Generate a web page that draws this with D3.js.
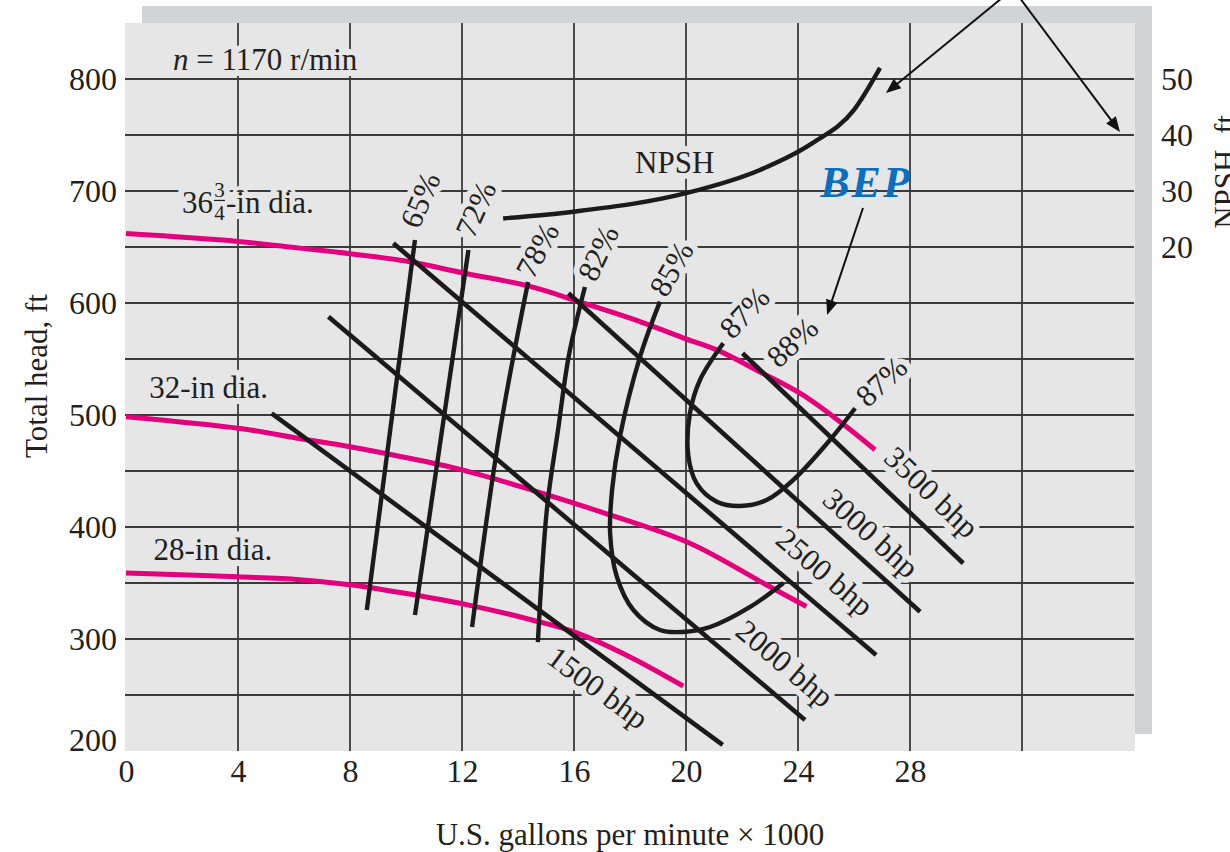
<!DOCTYPE html>
<html>
<head>
<meta charset="utf-8">
<script src="https://cdn.jsdelivr.net/npm/d3@7"></script>
<style>
  body { margin: 0; background: #fff; }
  svg text { font-family: "Liberation Serif", "Times New Roman", serif; fill: #231f20; }
  svg text.halo { fill: #e6e6e6; stroke: #e6e6e6; stroke-width: 12px; stroke-linejoin: round; }
</style>
</head>
<body>
<script>
// ---- axis ticks and grid ----
const flowTicks = [0, 4, 8, 12, 16, 20, 24, 28];          // gpm x 1000
const headTicks = [200, 300, 400, 500, 600, 700, 800];    // ft
const npshTicks = [20, 30, 40, 50];                       // ft
const flowGrid  = [4, 8, 12, 16, 20, 24, 28, 32];
const headGrid  = [250, 300, 350, 400, 450, 500, 550, 600, 650, 700, 750, 800];

// ---- head-capacity curves per impeller diameter: [gpm x 1000, head ft] ----
const head36 = [[0,662],[4,655],[6.2,649],[8,644],[10.1,637],[12,627],[14.4,615],[16.2,601],
                [18.4,583],[20,568],[21.2,557],[22.6,539],[24.1,519],[25.5,494],[26.75,469]];
const head32 = [[0,498.5],[4.07,488],[6.2,479],[8,471.7],[9.8,463],[12,451],[14.5,433],
                [16.9,414],[20.1,386],[22.9,348],[24.3,329]];
const head28 = [[0,359],[4,355.5],[6.2,353],[8,348.5],[9.8,341.5],[12.2,330.5],[14.5,317],
                [16.1,305.5],[18,284],[19.9,258]];

// ---- required NPSH: [gpm x 1000, NPSH ft] ----
const npshCurve = [[13.47,25.1],[15.97,26.3],[20,29.6],[22.64,33.75],[24.5,38.5],[26,44.5],[26.93,52]];

// ---- iso-efficiency contours: [gpm x 1000, head ft] ----
const effNames = ["65%", "72%", "78%", "82%", "85%", "87%"];
const eff65 = [[10.32,656.3],[8.6,325.9]];
const eff72 = [[12.23,647.3],[10.32,321.4]];
const eff78 = [[14.36,618.75],[13.36,486.6],[12.36,310.7]];
const eff82 = [[16.39,614.3],[15.82,553.6],[15.43,486.6],[15.04,417.9],[14.71,297.3]];
const eff85 = [[19.07,601.2],[18.36,552.1],[17.64,480.6],[17.36,433],[17.29,394.6],[17.53,355.6],
               [18.12,325.9],[19.07,308],[19.89,306.3],[20.86,310.7],[22.29,328.6],[23.48,350]];
const eff87 = [[21.33,564],[20.5,531.25],[20.14,501.5],[20.08,464.3],[20.38,439],[21.1,422.6],
               [21.93,418.75],[22.88,424.1],[23.83,442],[25.14,477.7],[26.04,506]];
const effCurves = [eff65, eff72, eff78, eff82, eff85, eff87];
const bestEff = { name: "88%", at: [23.79, 565.2] };

// ---- constant brake-horsepower lines: [gpm x 1000, head ft] ----
const bhpNames = ["1500 bhp", "2000 bhp", "2500 bhp", "3000 bhp", "3500 bhp"];
const bhp1500 = [[5.2,501.5],[21.31,205.4]];
const bhp2000 = [[7.23,587.8],[24.25,227.7]];
const bhp2500 = [[9.55,653.3],[26.79,285.7]];
const bhp3000 = [[15.8,608.7],[28.36,324.4]];
const bhp3500 = [[22.02,555.1],[29.9,367.6]];
const bhpLines = [bhp1500, bhp2000, bhp2500, bhp3000, bhp3500];

// ---- annotation arrows: [from, to] in [gpm x 1000, head ft] ----
const npshArrows = [[[31.68,880.4],[27.14,787.5]], [[31.68,880.4],[35.5,752.7]]];
const bepArrow = [[26.32,684.8],[25.04,589.3]];

// ---------------------------------------------------------------
const W = 1230, H = 852;
const x  = d3.scaleLinear().domain([0, 36]).range([126, 1134]);
const y  = d3.scaleLinear().domain([200, 850]).range([751, 23]);
// NPSH scale on the right: head = 550 + 5 * NPSH
const yN = d3.scaleLinear().domain([-70, 60]).range([751, 23]);

const svg = d3.select("body").append("svg").attr("width", W).attr("height", H);

// panel with offset shadow
svg.append("rect").attr("x", x(0) + 16).attr("y", y(850) - 17)
   .attr("width", x(36) - x(0) + 2).attr("height", y(200) - y(850)).attr("fill", "#d2d3d5");
svg.append("rect").attr("x", x(0) - 1).attr("y", y(850))
   .attr("width", x(36) - x(0) + 2).attr("height", y(200) - y(850)).attr("fill", "#e6e6e6");

// grid
const grid = svg.append("g").attr("stroke", "#3a3a3a").attr("stroke-width", 1.8);
grid.selectAll("line.h").data(headGrid).join("line").attr("class", "h")
    .attr("x1", x(0) - 1).attr("x2", x(36)).attr("y1", d => y(d)).attr("y2", d => y(d));
grid.selectAll("line.v").data(flowGrid).join("line").attr("class", "v")
    .attr("x1", d => x(d)).attr("x2", d => x(d)).attr("y1", y(850)).attr("y2", y(200));

const haloG  = svg.append("g");
const curveG = svg.append("g").attr("fill", "none");
const textG  = svg.append("g");
const arrowG = svg.append("g");

// text with a panel-coloured knock-out behind it
function label(px, py, rot, opts, content) {
  const size = opts.size || 31, anchor = opts.anchor || "middle";
  const dy = opts.dy != null ? opts.dy : "0.35em";
  let out;
  [haloG, textG].forEach((g, i) => {
    const t = g.append("text")
      .attr("transform", `translate(${px},${py}) rotate(${rot})`)
      .attr("text-anchor", anchor).attr("dy", dy)
      .style("font-size", size + "px");
    if (typeof content === "string") t.text(content); else content(t);
    if (i === 0) t.attr("class", "halo"); else out = t;
  });
  return out;
}

const line  = d3.line().x(d => x(d[0])).y(d => y(d[1])).curve(d3.curveCatmullRom.alpha(0.5));
const lineN = d3.line().x(d => x(d[0])).y(d => yN(d[1])).curve(d3.curveMonotoneX);

// impeller curves
curveG.selectAll("path.dia").data([head36, head32, head28]).join("path").attr("class", "dia")
  .attr("d", line).attr("stroke", "#e4007c").attr("stroke-width", 5);

// brake horsepower lines
curveG.selectAll("path.bhp").data(bhpLines).join("path").attr("class", "bhp")
  .attr("d", line).attr("stroke", "#1c1a1b").attr("stroke-width", 4.6);

// efficiency contours
curveG.selectAll("path.eff").data(effCurves).join("path").attr("class", "eff")
  .attr("d", line).attr("stroke", "#1c1a1b").attr("stroke-width", 4.4);

// NPSH
curveG.append("path").datum(npshCurve).attr("d", lineN)
  .attr("stroke", "#1c1a1b").attr("stroke-width", 4.4);

// efficiency labels, placed above the upper end of each contour
const effLabelOffsets = [[5,-40,-67],[7,-41,-66],[9,-32,-62],[13,-34,-65],[11,-33,-60],[21,-31,-47]];
effCurves.forEach((c, i) => {
  const [dx, dy, r] = effLabelOffsets[i];
  label(x(c[0][0]) + dx, y(c[0][1]) + dy, r, {}, effNames[i]);
});
{
  const e = eff87[eff87.length - 1];
  label(x(e[0]) + 26, y(e[1]) - 27, -43, {}, effNames[5]);
}
label(x(bestEff.at[0]), y(bestEff.at[1]), -43, {}, bestEff.name);

// bhp labels: fraction along the line and offset perpendicular to it
const bhpLabelPos = [[0.76, 27.4], [0.917, -30.6], [0.854, -30.1], [0.812, -25.5], [0.764, -30]];
bhpLines.forEach((l, i) => {
  const x0 = x(l[0][0]), y0 = y(l[0][1]), x1 = x(l[1][0]), y1 = y(l[1][1]);
  const len = Math.hypot(x1 - x0, y1 - y0), ux = (x1 - x0) / len, uy = (y1 - y0) / len;
  const [t, p] = bhpLabelPos[i];
  const cx = x0 + ux * len * t - uy * p, cy = y0 + uy * len * t + ux * p;
  label(cx, cy, Math.atan2(uy, ux) * 180 / Math.PI, {}, bhpNames[i]);
});

// curve captions
label(x(1.68), y(808), 0, { anchor: "start", dy: 0 }, t => {
  t.append("tspan").style("font-style", "italic").text("n");
  t.append("tspan").text(" = 1170 r/min");
});
label(x(18.18), y(715.8), 0, { anchor: "start", dy: 0 }, "NPSH");
label(x(0.83), y(514.9), 0, { anchor: "start", dy: 0 }, "32-in dia.");
label(x(0.98), y(370.5), 0, { anchor: "start", dy: 0 }, "28-in dia.");

// 36 3/4-in dia. with a stacked fraction
{
  const bx = x(2.0), by = y(680.4);
  const t36 = label(bx, by, 0, { anchor: "start", dy: 0 }, "36");
  const fx = bx + t36.node().getComputedTextLength() + 1;
  label(fx + 5.5, by - 16.3, 0, { size: 21, dy: 0 }, "3");
  label(fx + 5.5, by + 7, 0, { size: 21, dy: 0 }, "4");
  textG.append("line").attr("x1", fx).attr("x2", fx + 11).attr("y1", by - 12.5).attr("y2", by - 12.5)
    .attr("stroke", "#231f20").attr("stroke-width", 1.2);
  label(fx + 12, by, 0, { anchor: "start", dy: 0 }, "-in dia.");
}

// BEP call-out
textG.append("text").attr("x", x(26.43)).attr("y", y(694.6)).attr("text-anchor", "middle")
  .style("font-size", "44px").style("font-weight", "bold").style("font-style", "italic")
  .style("letter-spacing", "2px").style("fill", "#0b6fc1").text("BEP");

// arrows
function arrow(a, b) {
  const x0 = x(a[0]), y0 = y(a[1]), x1 = x(b[0]), y1 = y(b[1]);
  const len = Math.hypot(x1 - x0, y1 - y0), ux = (x1 - x0) / len, uy = (y1 - y0) / len;
  const hl = 15, hw = 6;
  arrowG.append("line").attr("x1", x0).attr("y1", y0)
    .attr("x2", x1 - ux * hl * 0.8).attr("y2", y1 - uy * hl * 0.8)
    .attr("stroke", "#111").attr("stroke-width", 2);
  const bx = x1 - ux * hl, by = y1 - uy * hl;
  arrowG.append("path").attr("fill", "#111")
    .attr("d", `M${x1},${y1}L${bx - uy * hw},${by + ux * hw}L${bx + uy * hw},${by - ux * hw}Z`);
}
npshArrows.forEach(a => arrow(a[0], a[1]));
arrow(bepArrow[0], bepArrow[1]);

// axes
const axFont = "32px";
const ax = svg.append("g").attr("transform", `translate(0,${y(200)})`)
  .call(d3.axisBottom(x).tickValues(flowTicks).tickSize(0).tickPadding(8).tickFormat(d3.format("d")));
const ay = svg.append("g").attr("transform", `translate(${x(0)},0)`)
  .call(d3.axisLeft(y).tickValues(headTicks).tickSize(0).tickPadding(9).tickFormat(d3.format("d")));
const an = svg.append("g").attr("transform", `translate(${x(36)},0)`)
  .call(d3.axisRight(yN).tickValues(npshTicks).tickSize(0).tickPadding(27).tickFormat(d3.format("d")));
[ax, ay, an].forEach(g => {
  g.select(".domain").remove();
  g.selectAll(".tick line").remove();
  g.selectAll("text").style("font-size", axFont).style("font-family", null);
});
ay.selectAll(".tick").filter(d => d === 200).select("text").attr("dy", "-0.03em");

// axis titles
svg.append("text").attr("x", (x(0) + x(36)) / 2).attr("y", 845).attr("text-anchor", "middle")
  .style("font-size", "31px").text("U.S. gallons per minute \u00d7 1000");
svg.append("text").attr("transform", `translate(47,${376}) rotate(-90)`).attr("text-anchor", "middle")
  .style("font-size", "31px").text("Total head, ft");
svg.append("text").attr("transform", `translate(1236,${172}) rotate(-90)`).attr("text-anchor", "middle")
  .style("font-size", "31px").text("NPSH, ft");
</script>
</body>
</html>
